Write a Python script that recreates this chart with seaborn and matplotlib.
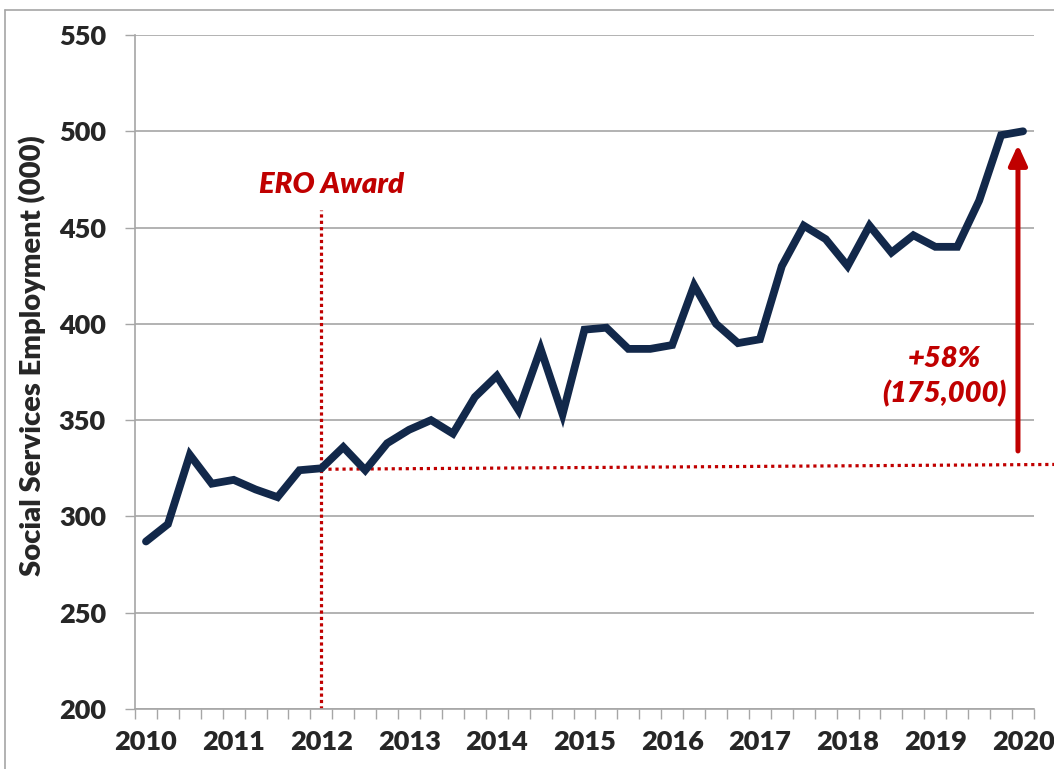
import matplotlib

matplotlib.use("Agg")
import matplotlib.pyplot as plt
import numpy as np
import pandas as pd
import seaborn as sns
from matplotlib.font_manager import FontProperties
from matplotlib.lines import Line2D

# 四半期ごとの社会サービス雇用（千人）
employment = [
    287, 296, 332, 317, 319, 314, 310, 324, 325, 336,
    324, 338, 345, 350, 343, 362, 373, 355, 387, 353,
    397, 398, 387, 387, 389, 420, 400, 390, 392, 430,
    451, 444, 430, 451, 437, 446, 440, 440, 464, 498,
    500,
]
year_labels = ["2010", "2011", "2012", "2013", "2014", "2015",
               "2016", "2017", "2018", "2019", "2020"]
y_ticks = [200, 250, 300, 350, 400, 450, 500, 550]

award_idx = 8  # 2012
award_level = 325
award_line_top = 459
arrow_from = 334
arrow_to = 493

NAVY = "#12284A"
RED = "#C00000"
GRAY = "#A6A6A6"

sns.set_style("white")
plt.rcParams["font.family"] = ["Lato", "DejaVu Sans"]

xtick_font = FontProperties(family="Lato", weight="heavy", size=19.5)
ytick_font = FontProperties(family="Lato", weight="heavy", size=19.5)
label_font = FontProperties(family="Lato", weight="heavy", size=21)
note_font = FontProperties(family="Lato", weight="heavy", style="italic", size=21)

df = pd.DataFrame({"q": np.arange(len(employment)), "value": employment})

fig = plt.figure(figsize=(10.54, 7.69), dpi=100)
ax = fig.add_axes([0.1281, 0.078, 0.8529, 0.8765])

sns.lineplot(data=df, x="q", y="value", ax=ax, color=NAVY, linewidth=5.6,
             solid_joinstyle="miter", solid_capstyle="round", zorder=3)

# 軸の設定
ax.set_xlim(-0.5, len(employment) - 0.5)
ax.set_ylim(200, 550)
ax.set_yticks(y_ticks)
ax.set_yticklabels([str(v) for v in y_ticks], fontproperties=ytick_font)
ax.set_xticks(np.arange(0, len(employment), 4))
ax.set_xticklabels(year_labels, fontproperties=xtick_font)
ax.set_xticks(np.arange(-0.5, len(employment), 1), minor=True)
ax.tick_params(axis="x", which="major", length=0, pad=15)
ax.tick_params(axis="x", which="minor", length=7, width=1, color=GRAY,
               direction="out", bottom=True)
ax.tick_params(axis="y", which="major", length=7, width=1, color=GRAY,
               direction="out", left=True, pad=14)
ax.set_xlabel("")
ax.set_ylabel("Social Services Employment (000)", fontproperties=label_font)
ax.yaxis.set_label_coords(-0.099, 0.525)

ax.grid(axis="y", color=GRAY, linewidth=1.2)
ax.grid(axis="x", visible=False)
for side in ["top", "right"]:
    ax.spines[side].set_visible(False)
for side in ["left", "bottom"]:
    ax.spines[side].set_color(GRAY)
    ax.spines[side].set_linewidth(1.2)

# ERO Award の注記
ax.plot([award_idx, award_idx], [200, award_line_top], color=RED,
        linestyle=(0, (1, 1)), linewidth=2.3, zorder=2)
ax.plot([award_idx, len(employment) + 0.45], [award_level - 0.5, award_level + 2],
        color=RED, linestyle=(0, (1, 1.2)), linewidth=2.3, zorder=2,
        clip_on=False)
ax.text(award_idx + 0.45, 472, "ERO Award", color=RED, fontproperties=note_font,
        ha="center", va="center")

# 増加分の矢印
ax.annotate("", xy=(39.77, arrow_to), xytext=(39.77, arrow_from),
            arrowprops=dict(arrowstyle="-|>,head_width=0.55,head_length=1.2",
                            color=RED, linewidth=3.6, shrinkA=0, shrinkB=0),
            zorder=4)
ax.text(36.4, 382, "+58%", color=RED, fontproperties=note_font,
        ha="center", va="center")
ax.text(36.4, 364, "(175,000)", color=RED, fontproperties=note_font,
        ha="center", va="center")

# 外枠
fig.add_artist(Line2D([0.0047, 0.0047], [0.0, 0.987], color=GRAY, linewidth=1.2))
fig.add_artist(Line2D([0.0047, 1.0], [0.987, 0.987], color=GRAY, linewidth=1.2))

fig.savefig("out.png", dpi=100)
